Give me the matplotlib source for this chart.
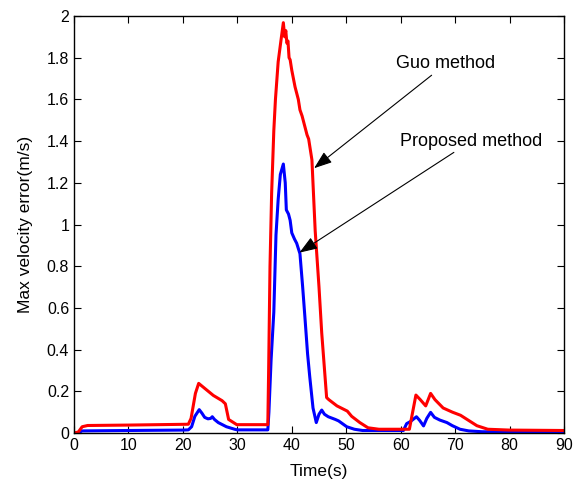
import matplotlib
matplotlib.use("Agg")
import matplotlib.pyplot as plt

plt.rcParams['font.family'] = ['Liberation Sans', 'DejaVu Sans']

# Guo method (red)
t_guo = [0, 0.8, 1.5, 2.5, 10, 21, 21.5, 22.3, 22.9, 23.5, 25.6, 27.2, 27.8, 28.4,
         29.9, 35.6, 35.75, 36.0, 36.3, 36.7, 37.0, 37.5, 38.0, 38.45, 38.7, 38.9,
         39.1, 39.3, 39.5, 39.7, 40.0, 40.3, 40.6, 40.9, 41.2, 41.5, 41.9, 42.4,
         42.8, 43.1, 43.7, 44.3, 45.0, 45.5, 46.4, 46.8, 48.3, 50.2, 51.0, 52.5,
         54.0, 56.0, 61.6, 62.2, 62.8, 63.6, 64.6, 65.5, 66.3, 67.8, 69.5, 71.0,
         72.5, 74.0, 76.0, 80, 90]
v_guo = [0, 0.005, 0.03, 0.036, 0.038, 0.042, 0.07, 0.19, 0.238, 0.225, 0.18, 0.155,
         0.14, 0.065, 0.04, 0.04, 0.3, 0.8, 1.15, 1.45, 1.6, 1.78, 1.88, 1.968, 1.9,
         1.93, 1.87, 1.88, 1.8, 1.79, 1.74, 1.7, 1.66, 1.63, 1.6, 1.55, 1.52, 1.47,
         1.43, 1.41, 1.31, 0.97, 0.70, 0.48, 0.17, 0.16, 0.13, 0.105, 0.08, 0.05,
         0.025, 0.018, 0.018, 0.10, 0.182, 0.16, 0.13, 0.19, 0.16, 0.12, 0.10, 0.085,
         0.06, 0.035, 0.018, 0.014, 0.012]

# Proposed method (blue)
t_prop = [0, 0.7, 1.5, 10, 20, 21, 21.6, 22.2, 23.0, 23.5, 24.0, 24.6, 25.1, 25.4,
          25.8, 26.5, 28.0, 29.5, 30, 35.6, 35.8, 36.2, 36.7, 37.1, 37.5, 37.9, 38.45,
          38.8, 39.0, 39.4, 39.7, 40.0, 40.5, 40.9, 41.5, 42.0, 42.4, 42.9, 43.3,
          43.9, 44.5, 45.0, 45.5, 46.0, 46.7, 48.0, 48.6, 50.1, 51.5, 53, 60.5, 61.1,
          61.8, 62.9, 63.5, 64.2, 64.8, 65.5, 66.2, 67.2, 68.5, 69.5, 70.9, 72.5, 75, 90]
v_prop = [0, 0, 0.01, 0.012, 0.014, 0.015, 0.03, 0.08, 0.112, 0.095, 0.075, 0.068,
          0.07, 0.078, 0.065, 0.05, 0.03, 0.018, 0.015, 0.015, 0.1, 0.35, 0.58, 0.95,
          1.12, 1.24, 1.29, 1.2, 1.07, 1.05, 1.02, 0.96, 0.93, 0.91, 0.86, 0.7, 0.56,
          0.38, 0.27, 0.12, 0.05, 0.09, 0.11, 0.09, 0.078, 0.065, 0.058, 0.03, 0.018,
          0.012, 0.012, 0.045, 0.055, 0.078, 0.06, 0.034, 0.07, 0.099, 0.075, 0.062,
          0.05, 0.035, 0.018, 0.01, 0.006, 0.005]

fig = plt.figure(figsize=(5.83, 4.92), dpi=100)
ax = fig.add_axes([74/583, 1-433/492, 490/583, 417/492])

ax.plot(t_prop, v_prop, color='#0000ff', lw=2.2)
ax.plot(t_guo, v_guo, color='#ff0000', lw=2.2)

ax.set_xlim(0, 90)
ax.set_ylim(0, 2)
ax.set_xticks(range(0, 91, 10))
ax.set_yticks([0, 0.2, 0.4, 0.6, 0.8, 1, 1.2, 1.4, 1.6, 1.8, 2])
ax.set_yticklabels(['0', '0.2', '0.4', '0.6', '0.8', '1', '1.2', '1.4', '1.6', '1.8', '2'])
ax.tick_params(direction='in', top=True, right=True, length=5, width=0.8, labelsize=11.5)
for s in ax.spines.values():
    s.set_linewidth(1.0)

ax.set_xlabel('Time(s)', fontsize=12.5, labelpad=8)
ax.set_ylabel('Max velocity error(m/s)', fontsize=12.5, labelpad=10)

arrow = dict(arrowstyle='-|>,head_length=0.55,head_width=0.2', color='black',
             lw=0.8, mutation_scale=20, shrinkA=0, shrinkB=0)
ax.annotate('Guo method', xy=(44.1, 1.27), xytext=(59.2, 1.77), fontsize=13,
            va='center', ha='left', arrowprops=arrow)
ax.annotate('Proposed method', xy=(41.4, 0.865), xytext=(59.9, 1.40), fontsize=13,
            va='center', ha='left', arrowprops=arrow)

fig.savefig('out.png', dpi=100)
